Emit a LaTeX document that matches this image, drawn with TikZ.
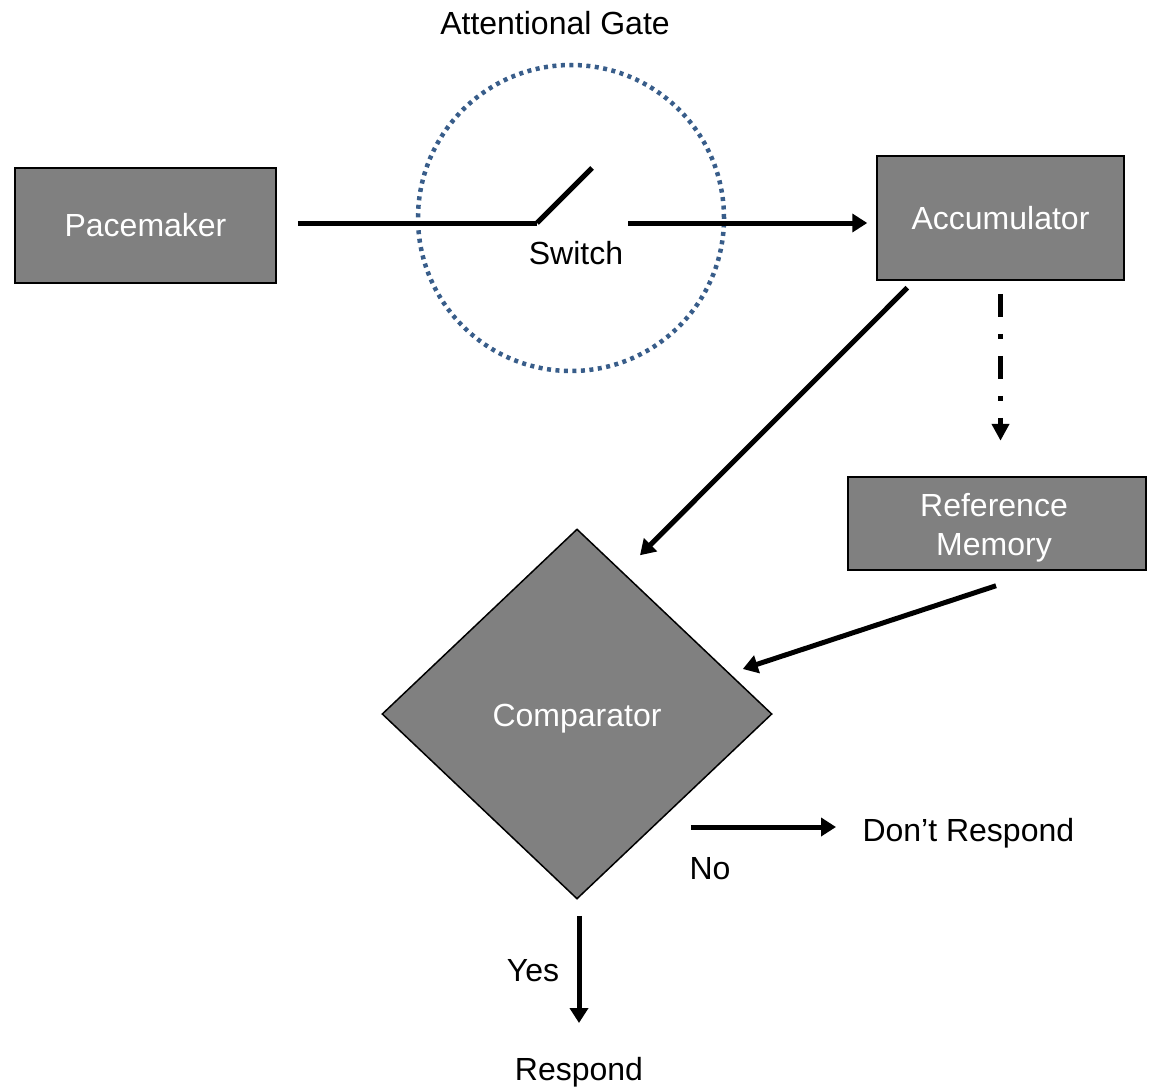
\documentclass[tikz,border=0pt]{standalone}
\usepackage{fontspec}
\setmainfont{Liberation Sans}
\usetikzlibrary{arrows.meta,shapes.geometric,calc}
\definecolor{boxgray}{RGB}{128,128,128}
\definecolor{gateblue}{RGB}{56,93,138}
\begin{document}
\begin{tikzpicture}[x=1pt,y=-1pt,
  every node/.style={font=\fontsize{32}{39}\selectfont},
  graybox/.style={draw=black,line width=1.5pt,fill=boxgray,text=white,inner sep=0pt,align=center},
  whitetext/.style={text=white,align=center,inner sep=0pt},
  conn/.style={line width=5pt,-{Triangle[length=15pt,width=18pt]}},
  plainline/.style={line width=5pt}]
\useasboundingbox (0,0) rectangle (1150,1086);
\node[graybox,minimum width=261pt,minimum height=115pt] (pace) at (145.5,225.5) {\raisebox{-2.5pt}{Pacemaker}};
\node[graybox,minimum width=247pt,minimum height=124pt] (acc) at (1000.5,218) {Accumulator};
\node[graybox,minimum width=298pt,minimum height=93pt] (refmem) at (997,523.5) {};
\node[whitetext] (refmemtext) at (994,528) {Reference\\Memory};
\node[graybox,diamond,minimum width=390pt,minimum height=370pt] (comp) at (577,714) {};
\node[whitetext] (comptext) at (577,719) {Comparator};
\node[draw=gateblue,line width=4.5pt,dash pattern=on 4pt off 4.5pt,circle,minimum size=306pt,inner sep=0pt] (gate) at (571,218) {};
\node (gatelabel) at (555,23) {Attentional Gate};
\node (switchlabel) at (576,253) {Switch};
\coordinate (sw1) at (537,223);
\coordinate (sw2) at (592,168);
\coordinate (sw3) at (628,223);
\draw[plainline] ($(pace.east)+(21,-2.5)$) -- (sw1);
\draw[plainline] (sw1) -- (sw2);
\draw[conn] (sw3) -- ($(acc.west)+(-9,5)$);
\draw[conn] ($(acc.south west)+(31,7)$) -- ($(comp.north)+(63,27)$);
\draw[line width=4.5pt,dash pattern=on 23pt off 17pt on 5pt off 17pt,-{Triangle[length=17pt,width=17pt]}] ($(acc.south)+(0,13)$) -- ($(acc.south)+(0,160)$);
\draw[conn] ($(refmem.south)+(-1,15)$) -- ($(comp.east)+(-30,-45)$);
\node[anchor=west] (dontresp) at (859,833) {Don’t Respond};
\node (no) at (710,869) {No};
\draw[conn] ($(comp.east)+(-82,113)$) -- ($(dontresp.west)+(-23,-6)$);
\node (respond) at (579,1072) {Respond};
\node (yes) at (533,971) {Yes};
\draw[conn] ($(comp.south)+(2,16)$) -- ($(respond.center)+(0,-49)$);
\end{tikzpicture}
\end{document}
